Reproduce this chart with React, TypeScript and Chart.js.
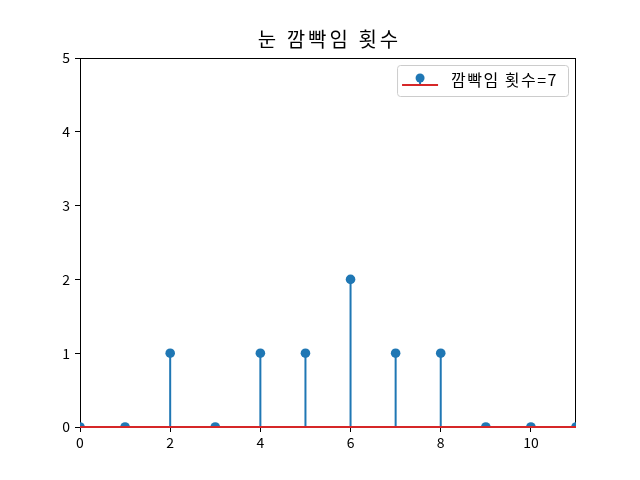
import React, { useEffect, useRef } from "react";
import { Chart, registerables } from "chart.js";

Chart.register(...registerables);

const positions = [0, 1, 2, 3, 4, 5, 6, 7, 8, 9, 10, 11];
const blinkCounts = [0, 0, 1, 0, 1, 1, 2, 1, 1, 0, 0, 0];
const xTicks = [0, 2, 4, 6, 8, 10];
const yTicks = [0, 1, 2, 3, 4, 5];
const titleText = "눈 깜빡임 횟수";
const legendPrefix = "깜빡임 횟수=";

const BLUE = "#1f77b4";
const RED = "#d62728";
const FONT = "'Noto Sans CJK KR', 'Noto Sans', sans-serif";

export default function App() {
  const ref = useRef<HTMLCanvasElement | null>(null);

  useEffect(() => {
    const canvas = ref.current;
    if (!canvas) return;

    const stemPoints: any[] = [];
    positions.forEach((x, i) => {
      stemPoints.push({ x, y: 0 });
      stemPoints.push({ x, y: blinkCounts[i] });
      stemPoints.push({ x, y: null });
    });
    const markerPoints = positions.map((x, i) => ({ x, y: blinkCounts[i] }));
    const basePoints = [
      { x: positions[0], y: 0 },
      { x: positions[positions.length - 1], y: 0 },
    ];
    const total = blinkCounts.reduce((a, b) => a + b, 0);

    const decor = {
      id: "decor",
      beforeDatasetsDraw(chart: any) {
        const { ctx, chartArea } = chart;
        ctx.save();
        ctx.strokeStyle = "#000";
        ctx.lineWidth = 1;
        ctx.strokeRect(
          Math.round(chartArea.left) + 0.5,
          Math.round(chartArea.top) + 0.5,
          Math.round(chartArea.right - chartArea.left) - 1,
          Math.round(chartArea.bottom - chartArea.top)
        );
        ctx.restore();
      },
      afterDraw(chart: any) {
        const { ctx, chartArea } = chart;
        ctx.save();
        // title
        ctx.fillStyle = "#000";
        ctx.font = `20px ${FONT}`;
        (ctx as any).letterSpacing = "3px";
        ctx.textAlign = "center";
        ctx.textBaseline = "middle";
        ctx.fillText(titleText, (chartArea.left + chartArea.right) / 2 + 1.5, 39);

        // legend
        const label = legendPrefix + total;
        ctx.font = `16px ${FONT}`;
        (ctx as any).letterSpacing = "1.5px";
        const tw = ctx.measureText(label).width;
        const boxR = chartArea.right - 8;
        const boxT = chartArea.top + 7;
        const boxH = 31;
        const boxW = tw + 64;
        const boxL = boxR - boxW;
        ctx.beginPath();
        ctx.roundRect(boxL + 0.5, boxT + 0.5, boxW, boxH, 3);
        ctx.fillStyle = "rgba(255,255,255,0.8)";
        ctx.fill();
        ctx.strokeStyle = "#cccccc";
        ctx.lineWidth = 1;
        ctx.stroke();

        const hx0 = boxL + 5;
        const hx1 = boxL + 41;
        const hmid = (hx0 + hx1) / 2;
        const baseY = boxT + 20;
        const dotY = boxT + 13;
        ctx.strokeStyle = BLUE;
        ctx.lineWidth = 2;
        ctx.beginPath();
        ctx.moveTo(hmid, baseY);
        ctx.lineTo(hmid, dotY);
        ctx.stroke();
        ctx.strokeStyle = RED;
        ctx.beginPath();
        ctx.moveTo(hx0, baseY);
        ctx.lineTo(hx1, baseY);
        ctx.stroke();
        ctx.fillStyle = BLUE;
        ctx.beginPath();
        ctx.arc(hmid, dotY, 4.5, 0, Math.PI * 2);
        ctx.fill();

        ctx.fillStyle = "#000";
        ctx.textAlign = "left";
        ctx.textBaseline = "middle";
        ctx.fillText(label, boxL + 54, boxT + 15);
        ctx.restore();
      },
    };

    const chart = new Chart(canvas, {
      type: "scatter",
      data: {
        datasets: [
          {
            type: "line",
            label: "baseline",
            data: basePoints,
            borderColor: RED,
            borderWidth: 2,
            pointRadius: 0,
            clip: false as any,
            order: 0,
          },
          {
            type: "scatter",
            label: "markers",
            data: markerPoints,
            backgroundColor: BLUE,
            borderWidth: 0,
            pointRadius: 4.8,
            pointHoverRadius: 4.8,
            clip: 0 as any,
            order: 1,
          },
          {
            type: "line",
            label: "stems",
            data: stemPoints,
            borderColor: BLUE,
            borderWidth: 2,
            pointRadius: 0,
            spanGaps: false,
            clip: 0 as any,
            order: 2,
          },
        ],
      },
      options: {
        responsive: false,
        animation: false,
        events: [],
        layout: { padding: { top: 58, right: 64, left: 0, bottom: 0 } },
        plugins: {
          legend: { display: false },
          title: { display: false },
          tooltip: { enabled: false },
        },
        scales: {
          x: {
            type: "linear",
            min: 0,
            max: 11,
            border: { display: false },
            grid: {
              drawOnChartArea: false,
              drawTicks: true,
              tickLength: 5,
              color: "#000",
              lineWidth: 1,
            },
            ticks: {
              color: "#000",
              font: { family: FONT, size: 14 },
              padding: 2,
              maxRotation: 0,
            },
            afterBuildTicks: (scale: any) => {
              scale.ticks = xTicks.map((v) => ({ value: v }));
            },
            afterFit: (scale: any) => {
              scale.height = 53;
            },
          },
          y: {
            type: "linear",
            min: 0,
            max: 5,
            border: { display: false },
            grid: {
              drawOnChartArea: false,
              drawTicks: true,
              tickLength: 5,
              color: "#000",
              lineWidth: 1,
            },
            ticks: {
              color: "#000",
              font: { family: FONT, size: 14 },
              padding: 5,
            },
            afterBuildTicks: (scale: any) => {
              scale.ticks = yTicks.map((v) => ({ value: v }));
            },
            afterFit: (scale: any) => {
              scale.width = 80;
            },
          },
        },
      },
      plugins: [decor],
    });

    return () => chart.destroy();
  }, []);

  return (
    <div style={{ position: "fixed", left: 0, top: 0, width: 640, height: 480, background: "#fff" }}>
      <canvas ref={ref} width={640} height={480} style={{ width: 640, height: 480 }} />
    </div>
  );
}
